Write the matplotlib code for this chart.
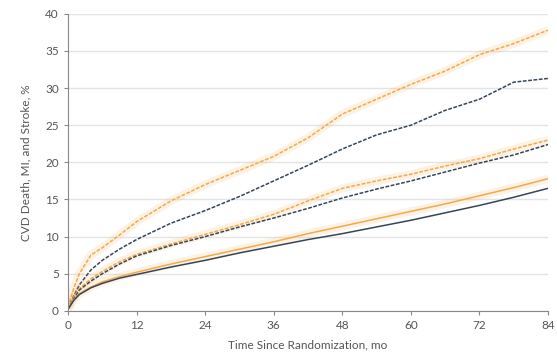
import numpy as np
import matplotlib.pyplot as plt

months = [0, 1, 2, 4, 6, 9, 12, 18, 24, 30, 36, 42, 48, 54, 60, 66, 72, 78, 84]

# upper pair (dashed)
orange_high = [0.5, 3.0, 5.0, 7.5, 8.5, 10.2, 12.0, 14.8, 17.0, 18.9, 20.8, 23.3, 26.5, 28.5, 30.5, 32.3, 34.5, 36.0, 37.8]
dark_high = [0.3, 2.0, 3.5, 5.5, 6.8, 8.3, 9.6, 11.8, 13.5, 15.4, 17.5, 19.6, 21.8, 23.7, 25.0, 27.0, 28.5, 30.8, 31.3]

# middle pair (dashed)
orange_mid = [0.3, 1.8, 3.0, 4.3, 5.3, 6.6, 7.6, 9.0, 10.3, 11.6, 13.0, 14.8, 16.5, 17.5, 18.4, 19.5, 20.5, 21.8, 23.0]
dark_mid = [0.2, 1.6, 2.8, 4.0, 5.0, 6.3, 7.4, 8.8, 10.0, 11.3, 12.5, 13.8, 15.2, 16.4, 17.5, 18.7, 19.9, 21.0, 22.4]

# lower pair (solid)
orange_low = [0.3, 1.5, 2.3, 3.2, 3.9, 4.6, 5.2, 6.3, 7.3, 8.3, 9.3, 10.4, 11.4, 12.4, 13.4, 14.4, 15.5, 16.6, 17.8]
dark_low = [0.2, 1.4, 2.2, 3.1, 3.7, 4.4, 4.9, 5.9, 6.8, 7.8, 8.7, 9.6, 10.4, 11.3, 12.2, 13.2, 14.2, 15.3, 16.5]

orange = '#f2aa4c'
dark = '#34465a'
txt = '#555555'

plt.rcParams['font.family'] = ['Lato', 'DejaVu Sans']

fig = plt.figure(figsize=(5.57, 3.64), dpi=100)
ax = fig.add_axes([0.122, 0.146, 0.862, 0.816])

for y, c, ls in [(orange_high, orange, '--'), (dark_high, dark, '--'),
                 (orange_mid, orange, '--'), (dark_mid, dark, '--'),
                 (orange_low, orange, '-'), (dark_low, dark, '-')]:
    if c == orange:
        ax.plot(months, y, color=orange, lw=6, alpha=0.15, solid_capstyle='butt')
    ax.plot(months, y, color=c, lw=1.1, ls=ls, dashes=(2.5, 1) if ls == '--' else (None, None))

ax.set_xlim(0, 84)
ax.set_ylim(0, 40)
ax.set_xticks(range(0, 85, 12))
ax.set_yticks(range(0, 41, 5))
ax.yaxis.grid(True, color='#e4e4e4', lw=1)
ax.set_axisbelow(True)
for s in ['top', 'right']:
    ax.spines[s].set_visible(False)
for s in ['left', 'bottom']:
    ax.spines[s].set_color('#888888')
ax.tick_params(colors='#888888', labelcolor=txt, labelsize=8.5, length=3)
ax.set_xlabel('Time Since Randomization, mo', fontsize=8.5, color=txt, labelpad=6)
ax.set_ylabel('CVD Death, MI, and Stroke, %', fontsize=8.5, color=txt, labelpad=10)

fig.savefig('out.png', dpi=100)
